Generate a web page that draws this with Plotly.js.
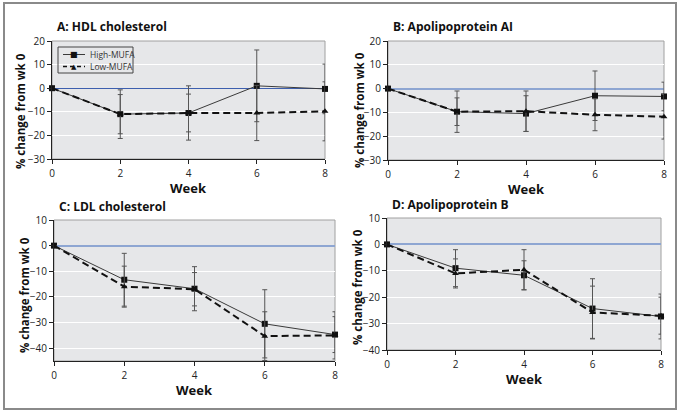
<!DOCTYPE html>
<html><head><meta charset="utf-8">
<script src="https://cdn.plot.ly/plotly-3.0.1.min.js"></script>
<style>html,body{margin:0;padding:0;background:#fff;}#chart{width:680px;height:414px;}</style>
</head><body><div id="chart"></div>
<script>
const weeks = [0, 2, 4, 6, 8];
const seriesNames = ['High-MUFA', 'Low-MUFA'];
const panelTitles = ['A: HDL cholesterol', 'B: Apolipoprotein AI', 'C: LDL cholesterol', 'D: Apolipoprotein B'];

// A: HDL cholesterol
const hdlHigh = [0, -11, -10.5, 1, -0.3];
const hdlHighErr = [0, 10.3, 11.5, 15.2, 10.5];
const hdlLow = [0, -11, -10.5, -10.5, -9.8];
const hdlLowErr = [0, 8.3, 8, 11.7, 12.5];
// B: Apolipoprotein AI
const apoaHigh = [0, -9.7, -10.5, -3, -3.3];
const apoaHighErr = [0, 8.7, 7.5, 10.4, 6];
const apoaLow = [0, -9.7, -9.5, -11, -11.8];
const apoaLowErr = [0, 5.8, 8.5, 6.7, 9.4];
// C: LDL cholesterol
const ldlHigh = [0, -13.3, -16.8, -30.5, -34.7];
const ldlHighErr = [0, 10.3, 8.6, 13.3, 7];
const ldlLow = [0, -16, -17, -35.3, -35];
const ldlLowErr = [0, 8, 6.5, 9.5, 9.2];
// D: Apolipoprotein B
const apobHigh = [0, -9, -11.7, -24.3, -27.3];
const apobHighErr = [0, 7, 5.5, 11.3, 8.5];
const apobLow = [0, -11, -9.6, -25.8, -27];
const apobLowErr = [0, 5.5, 7.6, 10, 7];

const yRanges = [[-30, 20], [-30, 20], [-45, 10], [-40, 10]];

const W = 680, H = 414;
// pixel boxes [left, right, top, bottom]
const boxes = [[52, 325, 41, 159], [388, 664, 41, 160], [54, 335, 220, 361], [387, 661, 218, 350]];
// y-title centre positions [x, y] in pixels
const yTitlePos = [[20, 111], [359, 110], [24, 295], [357, 287]];
const zeroColors = ['#3d5fae', '#8ea6d2', '#8ea6d2', '#8ea6d2'];
const zeroWidths = [1, 2, 2, 2];

const panels = [
  [hdlHigh, hdlHighErr, hdlLow, hdlLowErr],
  [apoaHigh, apoaHighErr, apoaLow, apoaLowErr],
  [ldlHigh, ldlHighErr, ldlLow, ldlLowErr],
  [apobHigh, apobHighErr, apobLow, apobLowErr]
];

const FONT = 'Open Sans, DejaVu Sans, sans-serif';
const traces = [];
const px = (v) => v / W, py = (v) => 1 - v / H;
const layout = {
  width: W, height: H, margin: {l: 0, r: 0, t: 0, b: 0},
  paper_bgcolor: '#ffffff', plot_bgcolor: '#e6e7e9',
  font: {family: FONT, size: 10, color: '#222'},
  showlegend: false,
  annotations: [], shapes: []
};

panels.forEach((p, i) => {
  const n = i + 1;
  const xa = 'x' + (n === 1 ? '' : n), ya = 'y' + (n === 1 ? '' : n);
  const b = boxes[i];
  const eb = (arr) => ({type: 'data', array: arr, visible: true, color: '#555', thickness: 1, width: 2.5});
  traces.push({
    x: weeks, y: p[0], error_y: eb(p[1]), xaxis: xa, yaxis: ya, name: seriesNames[0],
    mode: 'lines+markers', line: {color: '#3a3a3a', width: 1},
    marker: {symbol: 'square', size: 6, color: '#111'}, cliponaxis: false
  });
  traces.push({
    x: weeks, y: p[2], error_y: eb(p[3]), xaxis: xa, yaxis: ya, name: seriesNames[1],
    mode: 'lines+markers', line: {color: '#111', width: 2, dash: '7px,4px'},
    marker: {symbol: 'triangle-up', size: 6, color: '#111'}, cliponaxis: false
  });
  const xKey = 'xaxis' + (n === 1 ? '' : n), yKey = 'yaxis' + (n === 1 ? '' : n);
  layout[xKey] = {
    domain: [b[0] / W, b[1] / W], anchor: ya, range: [0, 8], tickvals: [0, 2, 4, 6, 8],
    showgrid: false, zeroline: false, showline: true, linecolor: '#222', linewidth: 1,
    ticks: 'outside', ticklen: 4, tickcolor: '#222', ticklabelstandoff: 1,
    tickfont: {size: 10, color: '#222'}, fixedrange: true
  };
  layout[yKey] = {
    domain: [1 - b[3] / H, 1 - b[2] / H], anchor: xa, range: yRanges[i], dtick: 10, tick0: 0,
    showgrid: true, gridcolor: '#ffffff', gridwidth: 1,
    zeroline: true, zerolinecolor: zeroColors[i], zerolinewidth: zeroWidths[i],
    showline: true, linecolor: '#222', linewidth: 1,
    ticks: 'outside', ticklen: 4, tickcolor: '#222', tickfont: {size: 10, color: '#222'}, fixedrange: true
  };
  // plot border
  layout.shapes.push({type: 'rect', xref: xa + ' domain', yref: ya + ' domain', x0: 0, x1: 1, y0: 0, y1: 1,
    line: {color: '#a0a0a0', width: 1}, layer: 'below'});
  // panel title
  layout.annotations.push({text: '<b>' + panelTitles[i] + '</b>', xref: 'paper', yref: 'paper',
    x: (b[0] + 3) / W, y: 1 - (b[2] - 14) / H, xanchor: 'left', yanchor: 'middle', showarrow: false,
    font: {size: 12, color: '#111'}});
  // y title
  layout.annotations.push({text: '<b>% change from wk 0</b>', xref: 'paper', yref: 'paper',
    x: px(yTitlePos[i][0]), y: py(yTitlePos[i][1]), textangle: -90, xanchor: 'center', yanchor: 'middle',
    showarrow: false, font: {size: 11.5, color: '#111'}});
  // x title
  layout.annotations.push({text: '<b>Week</b>', xref: 'paper', yref: 'paper',
    x: ((b[0] + b[1]) / 2) / W, y: 1 - (b[3] + 29) / H, xanchor: 'center', yanchor: 'middle',
    showarrow: false, font: {size: 13, color: '#111'}});
});

// legend (panel A), drawn as a compact key
layout.shapes.push({type: 'rect', xref: 'paper', yref: 'paper', x0: px(58), x1: px(133), y0: py(73), y1: py(47),
  line: {color: '#444', width: 1}, layer: 'above'});
layout.shapes.push({type: 'line', xref: 'paper', yref: 'paper', x0: px(63), x1: px(85), y0: py(54.5), y1: py(54.5),
  line: {color: '#3a3a3a', width: 1}, layer: 'above'});
layout.shapes.push({type: 'line', xref: 'paper', yref: 'paper', x0: px(63), x1: px(85), y0: py(66.5), y1: py(66.5),
  line: {color: '#111', width: 1.5, dash: '4px,3px'}, layer: 'above'});
const legendSymbols = ['■', '▲'];
seriesNames.forEach((nm, k) => {
  const yc = k === 0 ? 54.5 : 66.5;
  layout.annotations.push({text: legendSymbols[k], xref: 'paper', yref: 'paper', x: px(74), y: py(yc),
    xanchor: 'center', yanchor: 'middle', showarrow: false, font: {size: k === 0 ? 8 : 7, color: '#111', family: 'DejaVu Sans'}});
  layout.annotations.push({text: nm, xref: 'paper', yref: 'paper', x: px(88), y: py(yc),
    xanchor: 'left', yanchor: 'middle', showarrow: false, font: {size: 8.5, color: '#333'}});
});

// outer frame
layout.shapes.push({type: 'rect', xref: 'paper', yref: 'paper', x0: 4 / W, x1: 676 / W, y0: 1 - 409 / H, y1: 1 - 3 / H,
  line: {color: '#8a8a8a', width: 2}, layer: 'above'});

Plotly.newPlot('chart', traces, layout, {displayModeBar: false, staticPlot: true});
</script></body></html>
